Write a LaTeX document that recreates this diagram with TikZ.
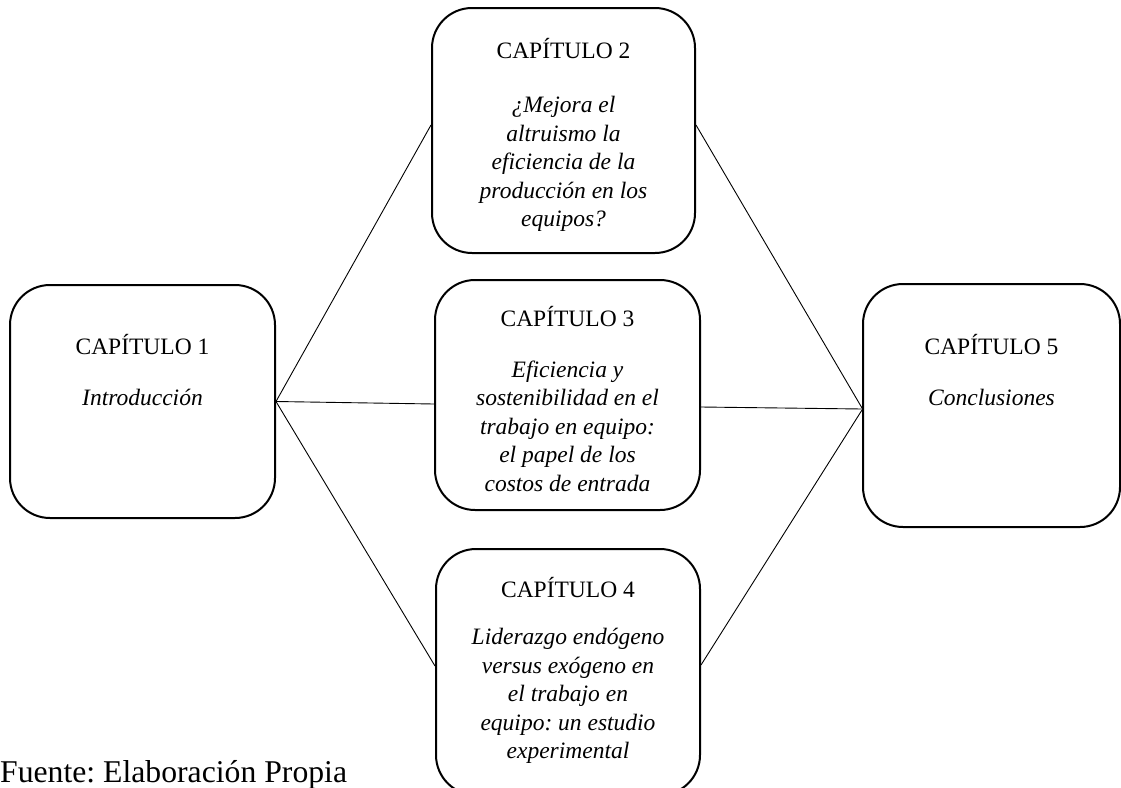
\documentclass[tikz,border=0pt]{standalone}
\usepackage{fontspec}
\setmainfont{Liberation Serif}
\frenchspacing
\begin{document}
\begin{tikzpicture}[x=1pt,y=-1pt,
  chapbox/.style={draw, line width=2pt, rounded corners=40pt, inner sep=0pt},
  chaptitle/.style={inner sep=0pt, font=\fontsize{23.5}{28.5}\selectfont},
  chapbody/.style={inner sep=0pt, align=center, font=\fontsize{23.5}{28.5}\selectfont\itshape},
  link/.style={line width=0.9pt}]
\useasboundingbox (0,0) rectangle (1121,787);
% boxes
\node[chapbox, minimum width=265pt, minimum height=233pt] (b1) at (142.5,401.5) {};
\node[chapbox, minimum width=263pt, minimum height=245pt] (b2) at (563.5,130.5) {};
\node[chapbox, minimum width=265pt, minimum height=230pt] (b3) at (567.5,395) {};
\node[chapbox, minimum width=264pt, minimum height=246pt] (b4) at (568,672) {};
\node[chapbox, minimum width=257pt, minimum height=243pt] (b5) at (991.5,405.5) {};
% texts
\node[chaptitle] (t1) at (142.5,345) {CAPÍTULO 1};
\node[chapbody] (d1) at (142.5,397) {Introducción};
\node[chaptitle] (t2) at (563.5,49) {CAPÍTULO 2};
\node[chapbody] (d2) at (563.5,164) {¿Mejora el\\altruismo la\\eficiencia de la\\producción en los\\equipos?};
\node[chaptitle] (t3) at (567.5,317) {CAPÍTULO 3};
\node[chapbody] (d3) at (567.5,426) {Eficiencia y\\sostenibilidad en el\\trabajo en equipo:\\el papel de los\\costos de entrada};
\node[chaptitle] (t4) at (568,588) {CAPÍTULO 4};
\node[chapbody] (d4) at (568,696) {Liderazgo endógeno\\versus exógeno en\\el trabajo en\\equipo: un estudio\\experimental};
\node[chaptitle] (t5) at (991.5,345) {CAPÍTULO 5};
\node[chapbody] (d5) at (991.5,397) {Conclusiones};
\node[anchor=base west, inner sep=0pt, font=\fontsize{31.7}{38}\selectfont] (src) at (0,782) {Fuente: Elaboración Propia};
% connectors
\draw[link] (b1.east) -- ([yshift=5.5pt]b2.west);
\draw[link] (b1.east) -- ([yshift=-9pt]b3.west);
\draw[link] (b1.east) -- ([yshift=6pt]b4.west);
\draw[link] ([yshift=5.5pt]b2.east) -- ([yshift=-2.5pt]b5.west);
\draw[link] ([yshift=-12pt]b3.east) -- ([yshift=-3.5pt]b5.west);
\draw[link] ([yshift=7pt]b4.east) -- ([yshift=-4.5pt]b5.west);
\end{tikzpicture}
\end{document}
